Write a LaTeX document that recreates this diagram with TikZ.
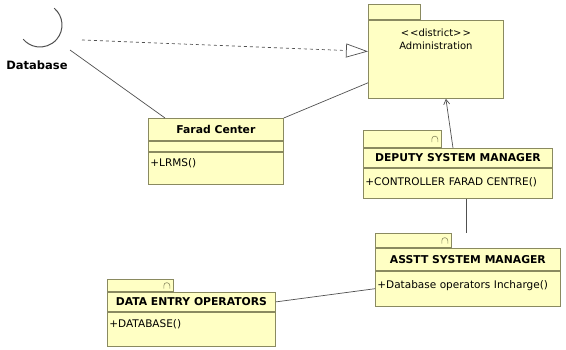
\documentclass[tikz,border=0pt]{standalone}
\usepackage{fontspec}
\setmainfont{DejaVu Sans}
\usepackage{tikz}
\usetikzlibrary{positioning,arrows.meta,calc}
\definecolor{umlfill}{HTML}{FFFFC4}
\definecolor{umlline}{HTML}{8A8A60}
\definecolor{linkgray}{HTML}{505050}

\begin{document}
\begin{tikzpicture}[
    x=1pt, y=-1pt,
    >=Stealth,
    font=\fontsize{10.5}{12}\selectfont
]

\tikzstyle{box}=[
    draw=umlline,
    fill=umlfill,
    line width=0.8pt,
    rectangle,
    inner sep=2pt
]
\tikzstyle{head}=[box, font=\fontsize{10.8}{12}\selectfont\bfseries]
\tikzstyle{ops}=[box, align=left]
\tikzstyle{tabbox}=[box, anchor=south west]
\tikzstyle{link}=[draw=linkgray, line width=0.7pt]

\useasboundingbox (0,0) rectangle (566,349);

% database interface
\coordinate (db) at (40,25);
\coordinate (dbport) at (82,40);
\coordinate (dblink) at (70,50);
\draw[link, line width=1pt] (db) ++(-50:22) arc (-50:140:22);
\node[font=\fontsize{11.5}{12}\selectfont\bfseries] (dblabel) at (37,65) {Database};

% package
\node[box, anchor=north west, minimum width=135, minimum height=78,
      label={[anchor=north, align=center, inner sep=4pt, yshift=-5pt, font=\fontsize{10}{13}\selectfont]north:{\textless\kern1pt\textless district\textgreater\kern1pt\textgreater\\Administration}}]
      (adm) at (368,20) {};
\node[tabbox, minimum width=52, minimum height=15] (admtab) at (adm.north west) {};

% classes
\node[head, anchor=north west, minimum width=135, minimum height=22] (farad) at (148,118) {Farad Center};
\node[box, minimum width=135, minimum height=10, below=0pt of farad] (faradattr) {};
\node[ops, text width=131, minimum height=32, text depth=10pt, below=0pt of faradattr] (faradops) {+LRMS()};

\node[head, anchor=north west, minimum width=189, minimum height=19] (dsm) at (363,148) {DEPUTY SYSTEM MANAGER};
\node[ops, text width=185, minimum height=30, text depth=4pt, below=0pt of dsm] (dsmops) {+CONTROLLER FARAD CENTRE()};
\node[tabbox, minimum width=78, minimum height=17] (dsmtab) at (dsm.north west) {};

\node[head, anchor=north west, minimum width=185, minimum height=22] (asst) at (375,248) {ASSTT SYSTEM MANAGER};
\node[ops, text width=181, minimum height=35, text depth=9pt, below=0pt of asst] (asstops) {+Database operators Incharge()};
\node[tabbox, minimum width=76, minimum height=14] (asstab) at (asst.north west) {};

\node[head, anchor=north west, minimum width=168, minimum height=19] (deo) at (107,292) {DATA ENTRY OPERATORS};
\node[ops, text width=164, minimum height=34, text depth=12pt, below=0pt of deo] (deoops) {+DATABASE()};
\node[tabbox, minimum width=66, minimum height=12] (deotab) at (deo.north west) {};

% little marks on the tabs
\foreach \t in {dsmtab, asstab, deotab}
    \draw[umlline, line width=0.6pt] ($(\t.east)+(-10,3)$) -- ++(0,-3) arc (180:360:3) -- ++(0,3);

% connectors
\draw[link, dashed, -{Triangle[open, length=22pt, width=14pt]}] (dbport) -- ($(adm.west)+(0,-8)$);
\draw[link] (dblink) -- ($(farad.north west)+(17,0)$);
\draw[link] (farad.north east) -- ($(adm.south west)+(0,-16)$);
\draw[link, -{Straight Barb[length=5pt, width=6pt]}] ($(dsm.north west)+(90,0)$) -- ($(adm.south)+(10,0)$);
\draw[link] (dsmops.south) ++(8,0) coordinate (dsmdown) -- (dsmdown |- asstab.north);
\draw[link] (deo.east) -- (asstops.west);

\end{tikzpicture}
\end{document}
